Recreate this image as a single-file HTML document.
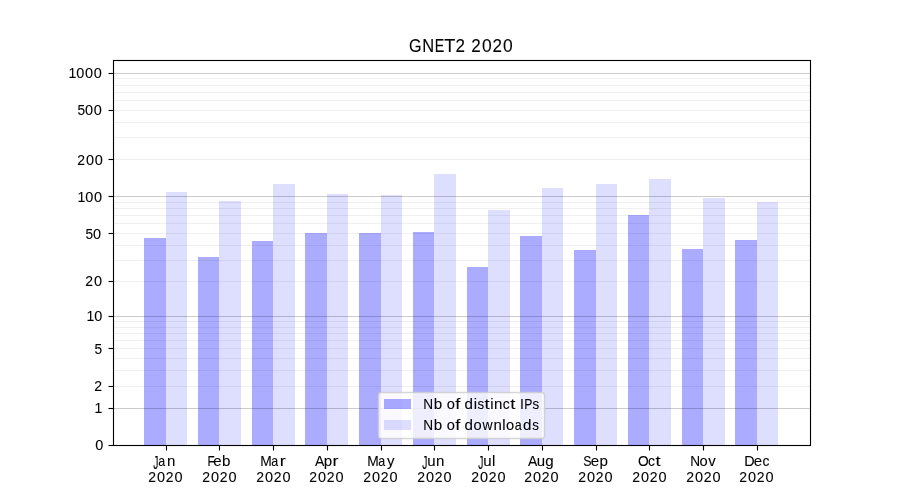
<!DOCTYPE html>
<html lang="en"><head><meta charset="utf-8"><title>GNET2 2020</title>
<style>html,body{margin:0;padding:0;background:#fff;overflow:hidden}body{font-size:0;line-height:0;color:transparent}svg{display:block}text{font-family:"Liberation Sans",sans-serif;fill:#000;white-space:pre}</style></head><body>
<svg width="900" height="500" viewBox="0 0 900 500" role="img" aria-label="GNET2 2020 bar chart">
<rect width="900" height="500" fill="#fff"/>
<g shape-rendering="crispEdges" fill="#00f">
<g fill-opacity="0.33">
<rect x="144" y="238" width="22" height="207"/>
<rect x="198" y="257" width="21" height="188"/>
<rect x="252" y="241" width="21" height="204"/>
<rect x="305" y="233" width="22" height="212"/>
<rect x="359" y="233" width="22" height="212"/>
<rect x="413" y="232" width="21" height="213"/>
<rect x="467" y="267" width="21" height="178"/>
<rect x="520" y="236" width="22" height="209"/>
<rect x="574" y="250" width="22" height="195"/>
<rect x="628" y="215" width="21" height="230"/>
<rect x="682" y="249" width="21" height="196"/>
<rect x="735" y="240" width="22" height="205"/>
</g><g fill-opacity="0.13">
<rect x="166" y="192" width="21" height="253"/>
<rect x="219" y="201" width="22" height="244"/>
<rect x="273" y="184" width="22" height="261"/>
<rect x="327" y="194" width="21" height="251"/>
<rect x="381" y="195" width="21" height="250"/>
<rect x="434" y="174" width="22" height="271"/>
<rect x="488" y="210" width="22" height="235"/>
<rect x="542" y="188" width="21" height="257"/>
<rect x="596" y="184" width="21" height="261"/>
<rect x="649" y="179" width="22" height="266"/>
<rect x="703" y="198" width="22" height="247"/>
<rect x="757" y="202" width="21" height="243"/>
</g></g>
<g stroke="#000" stroke-width="1.111" fill="none">
<g stroke-opacity="0.2">
<line x1="113" x2="810.5" y1="73.5" y2="73.5"/>
<line x1="113" x2="810.5" y1="196.5" y2="196.5"/>
<line x1="113" x2="810.5" y1="316.5" y2="316.5"/>
<line x1="113" x2="810.5" y1="408.5" y2="408.5"/>
</g><g stroke-opacity="0.06">
<line x1="113" x2="810.5" y1="78.5" y2="78.5"/>
<line x1="113" x2="810.5" y1="85.5" y2="85.5"/>
<line x1="113" x2="810.5" y1="92.5" y2="92.5"/>
<line x1="113" x2="810.5" y1="100.5" y2="100.5"/>
<line x1="113" x2="810.5" y1="110.5" y2="110.5"/>
<line x1="113" x2="810.5" y1="122.5" y2="122.5"/>
<line x1="113" x2="810.5" y1="137.5" y2="137.5"/>
<line x1="113" x2="810.5" y1="159.5" y2="159.5"/>
<line x1="113" x2="810.5" y1="202.5" y2="202.5"/>
<line x1="113" x2="810.5" y1="208.5" y2="208.5"/>
<line x1="113" x2="810.5" y1="215.5" y2="215.5"/>
<line x1="113" x2="810.5" y1="223.5" y2="223.5"/>
<line x1="113" x2="810.5" y1="233.5" y2="233.5"/>
<line x1="113" x2="810.5" y1="245.5" y2="245.5"/>
<line x1="113" x2="810.5" y1="260.5" y2="260.5"/>
<line x1="113" x2="810.5" y1="281.5" y2="281.5"/>
<line x1="113" x2="810.5" y1="321.5" y2="321.5"/>
<line x1="113" x2="810.5" y1="327.5" y2="327.5"/>
<line x1="113" x2="810.5" y1="333.5" y2="333.5"/>
<line x1="113" x2="810.5" y1="340.5" y2="340.5"/>
<line x1="113" x2="810.5" y1="348.5" y2="348.5"/>
<line x1="113" x2="810.5" y1="358.5" y2="358.5"/>
<line x1="113" x2="810.5" y1="370.5" y2="370.5"/>
<line x1="113" x2="810.5" y1="386.5" y2="386.5"/>
</g></g>
<g stroke="#000" stroke-width="1.111" fill="none">
<line x1="108.5" x2="113.5" y1="73.5" y2="73.5"/>
<line x1="108.5" x2="113.5" y1="110.5" y2="110.5"/>
<line x1="108.5" x2="113.5" y1="159.5" y2="159.5"/>
<line x1="108.5" x2="113.5" y1="196.5" y2="196.5"/>
<line x1="108.5" x2="113.5" y1="233.5" y2="233.5"/>
<line x1="108.5" x2="113.5" y1="281.5" y2="281.5"/>
<line x1="108.5" x2="113.5" y1="316.5" y2="316.5"/>
<line x1="108.5" x2="113.5" y1="348.5" y2="348.5"/>
<line x1="108.5" x2="113.5" y1="386.5" y2="386.5"/>
<line x1="108.5" x2="113.5" y1="408.5" y2="408.5"/>
<line x1="108.5" x2="113.5" y1="445.5" y2="445.5"/>
<line x1="166.5" x2="166.5" y1="445.5" y2="450.5"/>
<line x1="219.5" x2="219.5" y1="445.5" y2="450.5"/>
<line x1="273.5" x2="273.5" y1="445.5" y2="450.5"/>
<line x1="327.5" x2="327.5" y1="445.5" y2="450.5"/>
<line x1="381.5" x2="381.5" y1="445.5" y2="450.5"/>
<line x1="434.5" x2="434.5" y1="445.5" y2="450.5"/>
<line x1="488.5" x2="488.5" y1="445.5" y2="450.5"/>
<line x1="542.5" x2="542.5" y1="445.5" y2="450.5"/>
<line x1="596.5" x2="596.5" y1="445.5" y2="450.5"/>
<line x1="649.5" x2="649.5" y1="445.5" y2="450.5"/>
<line x1="703.5" x2="703.5" y1="445.5" y2="450.5"/>
<line x1="757.5" x2="757.5" y1="445.5" y2="450.5"/>
<rect x="113.5" y="60.5" width="697.0" height="385.0" stroke-linejoin="miter"/>
</g>
<rect x="378.5" y="392.5" width="166" height="46" rx="3" ry="3" fill="#fff" fill-opacity="0.8" stroke="#ccc" stroke-opacity="0.8" stroke-width="1.389"/>
<g shape-rendering="crispEdges" fill="#00f">
<rect x="384" y="399" width="27" height="10" fill-opacity="0.33"/>
<rect x="384" y="420" width="27" height="10" fill-opacity="0.13"/>
</g>
<g opacity="0.999" stroke="#000" stroke-width="0.1" stroke-linejoin="round">
<g font-size="14.72" aria-label="Jan">
<text transform="matrix(0.7000 0 0 1.2657 153.301 468.818)">J</text>
<text transform="matrix(0.8513 0 0 0.9920 158.343 465.857)">a</text>
<text transform="matrix(1.0195 0 0 1.0100 166.878 466.000)">n</text>
</g>
<g font-size="14.72" aria-label="2020">
<text transform="matrix(0.9507 0 0 0.9729 148.296 482.000)">2</text>
<text transform="matrix(0.9858 0 0 0.9595 157.058 481.862)">0</text>
<text transform="matrix(0.9507 0 0 0.9729 165.796 482.000)">2</text>
<text transform="matrix(0.9858 0 0 0.9595 174.558 481.862)">0</text>
</g>
<g font-size="14.72" aria-label="Feb">
<text transform="matrix(0.8014 0 0 0.9874 207.407 466.000)">F</text>
<text transform="matrix(1.0224 0 0 0.9920 213.361 465.857)">e</text>
<text transform="matrix(1.0291 0 0 1.0176 222.024 465.854)">b</text>
</g>
<g font-size="14.72" aria-label="2020">
<text transform="matrix(0.9507 0 0 0.9729 202.296 482.000)">2</text>
<text transform="matrix(0.9858 0 0 0.9595 211.058 481.862)">0</text>
<text transform="matrix(0.9507 0 0 0.9729 219.796 482.000)">2</text>
<text transform="matrix(0.9858 0 0 0.9595 228.558 481.862)">0</text>
</g>
<g font-size="14.72" aria-label="Mar">
<text transform="matrix(0.9394 0 0 0.9874 260.241 466.000)">M</text>
<text transform="matrix(0.8513 0 0 0.9920 271.343 465.857)">a</text>
<text transform="matrix(1.2228 0 0 1.0238 279.680 466.000)">r</text>
</g>
<g font-size="14.72" aria-label="2020">
<text transform="matrix(0.9507 0 0 0.9729 256.296 482.000)">2</text>
<text transform="matrix(0.9858 0 0 0.9595 265.058 481.862)">0</text>
<text transform="matrix(0.9507 0 0 0.9729 273.796 482.000)">2</text>
<text transform="matrix(0.9858 0 0 0.9595 282.558 481.862)">0</text>
</g>
<g font-size="14.72" aria-label="Apr">
<text transform="matrix(0.9493 0 0 0.9874 315.082 466.000)">A</text>
<text transform="matrix(1.0291 0 0 1.0029 323.774 465.936)">p</text>
<text transform="matrix(1.2228 0 0 1.0238 332.430 466.000)">r</text>
</g>
<g font-size="14.72" aria-label="2020">
<text transform="matrix(0.9507 0 0 0.9729 309.296 482.000)">2</text>
<text transform="matrix(0.9858 0 0 0.9595 318.058 481.862)">0</text>
<text transform="matrix(0.9507 0 0 0.9729 326.796 482.000)">2</text>
<text transform="matrix(0.9858 0 0 0.9595 335.558 481.862)">0</text>
</g>
<g font-size="14.72" aria-label="May">
<text transform="matrix(0.9394 0 0 0.9874 367.241 466.000)">M</text>
<text transform="matrix(0.8513 0 0 0.9920 378.343 465.857)">a</text>
<text transform="matrix(1.0131 0 0 1.0155 387.026 465.898)">y</text>
</g>
<g font-size="14.72" aria-label="2020">
<text transform="matrix(0.9507 0 0 0.9729 363.296 482.000)">2</text>
<text transform="matrix(0.9858 0 0 0.9595 372.058 481.862)">0</text>
<text transform="matrix(0.9507 0 0 0.9729 380.796 482.000)">2</text>
<text transform="matrix(0.9858 0 0 0.9595 389.558 481.862)">0</text>
</g>
<g font-size="14.72" aria-label="Jun">
<text transform="matrix(0.7000 0 0 1.2657 422.301 468.818)">J</text>
<text transform="matrix(1.0195 0 0 1.0100 427.151 465.855)">u</text>
<text transform="matrix(1.0195 0 0 1.0100 436.003 466.000)">n</text>
</g>
<g font-size="14.72" aria-label="2020">
<text transform="matrix(0.9507 0 0 0.9729 417.296 482.000)">2</text>
<text transform="matrix(0.9858 0 0 0.9595 426.058 481.862)">0</text>
<text transform="matrix(0.9507 0 0 0.9729 434.796 482.000)">2</text>
<text transform="matrix(0.9858 0 0 0.9595 443.558 481.862)">0</text>
</g>
<g font-size="14.72" aria-label="Jul">
<text transform="matrix(0.7000 0 0 1.2657 478.301 468.818)">J</text>
<text transform="matrix(1.0195 0 0 1.0100 483.151 465.855)">u</text>
<text transform="matrix(1.0141 0 0 1.0313 491.994 466.000)">l</text>
</g>
<g font-size="14.72" aria-label="2020">
<text transform="matrix(0.9507 0 0 0.9729 471.296 482.000)">2</text>
<text transform="matrix(0.9858 0 0 0.9595 480.058 481.862)">0</text>
<text transform="matrix(0.9507 0 0 0.9729 488.796 482.000)">2</text>
<text transform="matrix(0.9858 0 0 0.9595 497.558 481.862)">0</text>
</g>
<g font-size="14.72" aria-label="Aug">
<text transform="matrix(0.9493 0 0 0.9874 528.082 466.000)">A</text>
<text transform="matrix(1.0195 0 0 1.0100 536.651 465.855)">u</text>
<text transform="matrix(1.0291 0 0 1.0042 545.364 465.932)">g</text>
</g>
<g font-size="14.72" aria-label="2020">
<text transform="matrix(0.9507 0 0 0.9729 524.296 482.000)">2</text>
<text transform="matrix(0.9858 0 0 0.9595 533.058 481.862)">0</text>
<text transform="matrix(0.9507 0 0 0.9729 541.796 482.000)">2</text>
<text transform="matrix(0.9858 0 0 0.9595 550.558 481.862)">0</text>
</g>
<g font-size="14.72" aria-label="Sep">
<text transform="matrix(0.8408 0 0 0.9595 583.313 465.862)">S</text>
<text transform="matrix(1.0224 0 0 0.9920 590.861 465.857)">e</text>
<text transform="matrix(1.0291 0 0 1.0029 599.524 465.936)">p</text>
</g>
<g font-size="14.72" aria-label="2020">
<text transform="matrix(0.9507 0 0 0.9729 578.296 482.000)">2</text>
<text transform="matrix(0.9858 0 0 0.9595 587.058 481.862)">0</text>
<text transform="matrix(0.9507 0 0 0.9729 595.796 482.000)">2</text>
<text transform="matrix(0.9858 0 0 0.9595 604.558 481.862)">0</text>
</g>
<g font-size="14.72" aria-label="Oct">
<text transform="matrix(0.9330 0 0 0.9595 638.100 465.862)">O</text>
<text transform="matrix(0.9454 0 0 0.9920 648.034 465.857)">c</text>
<text transform="matrix(1.2500 0 0 1.0383 655.622 465.881)">t</text>
</g>
<g font-size="14.72" aria-label="2020">
<text transform="matrix(0.9507 0 0 0.9729 632.296 482.000)">2</text>
<text transform="matrix(0.9858 0 0 0.9595 641.058 481.862)">0</text>
<text transform="matrix(0.9507 0 0 0.9729 649.796 482.000)">2</text>
<text transform="matrix(0.9858 0 0 0.9595 658.558 481.862)">0</text>
</g>
<g font-size="14.72" aria-label="Nov">
<text transform="matrix(0.9273 0 0 0.9874 690.255 466.000)">N</text>
<text transform="matrix(0.9981 0 0 0.9920 699.508 465.857)">o</text>
<text transform="matrix(1.0159 0 0 1.0287 708.246 466.000)">v</text>
</g>
<g font-size="14.72" aria-label="2020">
<text transform="matrix(0.9507 0 0 0.9729 686.296 482.000)">2</text>
<text transform="matrix(0.9858 0 0 0.9595 695.058 481.862)">0</text>
<text transform="matrix(0.9507 0 0 0.9729 703.796 482.000)">2</text>
<text transform="matrix(0.9858 0 0 0.9595 712.558 481.862)">0</text>
</g>
<g font-size="14.72" aria-label="Dec">
<text transform="matrix(0.9750 0 0 0.9874 744.198 466.000)">D</text>
<text transform="matrix(1.0224 0 0 0.9920 753.861 465.857)">e</text>
<text transform="matrix(0.9454 0 0 0.9920 762.409 465.857)">c</text>
</g>
<g font-size="14.72" aria-label="2020">
<text transform="matrix(0.9507 0 0 0.9729 739.296 482.000)">2</text>
<text transform="matrix(0.9858 0 0 0.9595 748.058 481.862)">0</text>
<text transform="matrix(0.9507 0 0 0.9729 756.796 482.000)">2</text>
<text transform="matrix(0.9858 0 0 0.9595 765.558 481.862)">0</text>
</g>
<g font-size="14.72" aria-label="0">
<text transform="matrix(0.9858 0 0 0.9595 95.308 449.862)">0</text>
</g>
<g font-size="14.72" aria-label="1">
<text transform="matrix(0.9553 0 0 0.9874 94.491 413.000)">1</text>
</g>
<g font-size="14.72" aria-label="2">
<text transform="matrix(0.9507 0 0 0.9729 94.296 391.000)">2</text>
</g>
<g font-size="14.72" aria-label="5">
<text transform="matrix(0.9314 0 0 0.9736 94.513 353.860)">5</text>
</g>
<g font-size="14.72" aria-label="10">
<text transform="matrix(0.9553 0 0 0.9874 86.491 321.000)">1</text>
<text transform="matrix(0.9860 0 0 0.9595 94.183 320.862)">0</text>
</g>
<g font-size="14.72" aria-label="20">
<text transform="matrix(0.9507 0 0 0.9729 85.296 286.000)">2</text>
<text transform="matrix(0.9858 0 0 0.9595 94.058 285.862)">0</text>
</g>
<g font-size="14.72" aria-label="50">
<text transform="matrix(0.9314 0 0 0.9736 85.513 238.860)">5</text>
<text transform="matrix(0.9858 0 0 0.9595 93.058 238.862)">0</text>
</g>
<g font-size="14.72" aria-label="100">
<text transform="matrix(0.9553 0 0 0.9874 77.491 202.000)">1</text>
<text transform="matrix(0.9860 0 0 0.9595 85.183 201.862)">0</text>
<text transform="matrix(0.9860 0 0 0.9595 93.933 201.862)">0</text>
</g>
<g font-size="14.72" aria-label="200">
<text transform="matrix(0.9507 0 0 0.9729 77.296 165.000)">2</text>
<text transform="matrix(0.9858 0 0 0.9595 86.058 164.862)">0</text>
<text transform="matrix(0.9858 0 0 0.9595 94.808 164.862)">0</text>
</g>
<g font-size="14.72" aria-label="500">
<text transform="matrix(0.9314 0 0 0.9736 77.513 114.860)">5</text>
<text transform="matrix(0.9858 0 0 0.9595 85.058 114.862)">0</text>
<text transform="matrix(0.9858 0 0 0.9595 93.808 114.862)">0</text>
</g>
<g font-size="14.72" aria-label="1000">
<text transform="matrix(0.9553 0 0 0.9874 68.491 78.000)">1</text>
<text transform="matrix(0.9860 0 0 0.9595 76.183 77.862)">0</text>
<text transform="matrix(0.9860 0 0 0.9595 84.933 77.862)">0</text>
<text transform="matrix(0.9860 0 0 0.9595 93.683 77.862)">0</text>
</g>
<g font-size="17.66" aria-label="GNET2 2020">
<text transform="matrix(0.9175 0 0 1.0397 409.060 51.821)">G</text>
<text transform="matrix(0.9329 0 0 1.0700 422.149 52.000)">N</text>
<text transform="matrix(0.8097 0 0 1.0700 434.827 52.000)">E</text>
<text transform="matrix(1.0265 0 0 1.0700 444.343 52.000)">T</text>
<text transform="matrix(0.9633 0 0 1.0542 455.394 52.000)">2</text>
<text transform="matrix(0.9633 0 0 1.0542 471.269 52.000)">2</text>
<text transform="matrix(0.9865 0 0 1.0397 481.944 51.821)">0</text>
<text transform="matrix(0.9633 0 0 1.0542 492.394 52.000)">2</text>
<text transform="matrix(0.9865 0 0 1.0397 503.069 51.821)">0</text>
</g>
<g font-size="14.72" aria-label="Nb of distinct IPs">
<text transform="matrix(0.9273 0 0 0.9874 423.255 409.000)">N</text>
<text transform="matrix(1.0292 0 0 1.0176 433.649 408.854)">b</text>
<text transform="matrix(0.9981 0 0 0.9920 446.758 408.857)">o</text>
<text transform="matrix(1.2329 0 0 1.0327 455.243 409.000)">f</text>
<text transform="matrix(1.0291 0 0 1.0176 464.614 408.854)">d</text>
<text transform="matrix(1.0149 0 0 1.0313 473.626 409.000)">i</text>
<text transform="matrix(0.9032 0 0 0.9947 477.583 408.857)">s</text>
<text transform="matrix(1.2500 0 0 1.0383 484.497 408.881)">t</text>
<text transform="matrix(1.0149 0 0 1.0313 490.126 409.000)">i</text>
<text transform="matrix(1.0195 0 0 1.0100 494.003 409.000)">n</text>
<text transform="matrix(0.9454 0 0 0.9920 502.659 408.857)">c</text>
<text transform="matrix(1.2500 0 0 1.0383 510.247 408.881)">t</text>
<text transform="matrix(0.9564 0 0 0.9874 520.076 409.000)">I</text>
<text transform="matrix(0.8297 0 0 0.9874 524.373 409.000)">P</text>
<text transform="matrix(0.9032 0 0 0.9947 532.458 408.857)">s</text>
</g>
<g font-size="14.72" aria-label="Nb of downloads">
<text transform="matrix(0.9273 0 0 0.9874 423.255 430.000)">N</text>
<text transform="matrix(1.0292 0 0 1.0176 433.649 429.854)">b</text>
<text transform="matrix(0.9981 0 0 0.9920 446.758 429.857)">o</text>
<text transform="matrix(1.2329 0 0 1.0327 455.243 430.000)">f</text>
<text transform="matrix(1.0291 0 0 1.0176 464.614 429.854)">d</text>
<text transform="matrix(0.9981 0 0 0.9920 473.508 429.857)">o</text>
<text transform="matrix(0.9532 0 0 1.0287 482.474 430.000)">w</text>
<text transform="matrix(1.0195 0 0 1.0100 493.503 430.000)">n</text>
<text transform="matrix(1.0141 0 0 1.0313 502.244 430.000)">l</text>
<text transform="matrix(0.9981 0 0 0.9920 506.008 429.857)">o</text>
<text transform="matrix(0.8514 0 0 0.9920 514.718 429.857)">a</text>
<text transform="matrix(1.0291 0 0 1.0176 523.114 429.854)">d</text>
<text transform="matrix(0.9032 0 0 0.9947 532.208 429.857)">s</text>
</g>
</g>
</svg></body></html>
